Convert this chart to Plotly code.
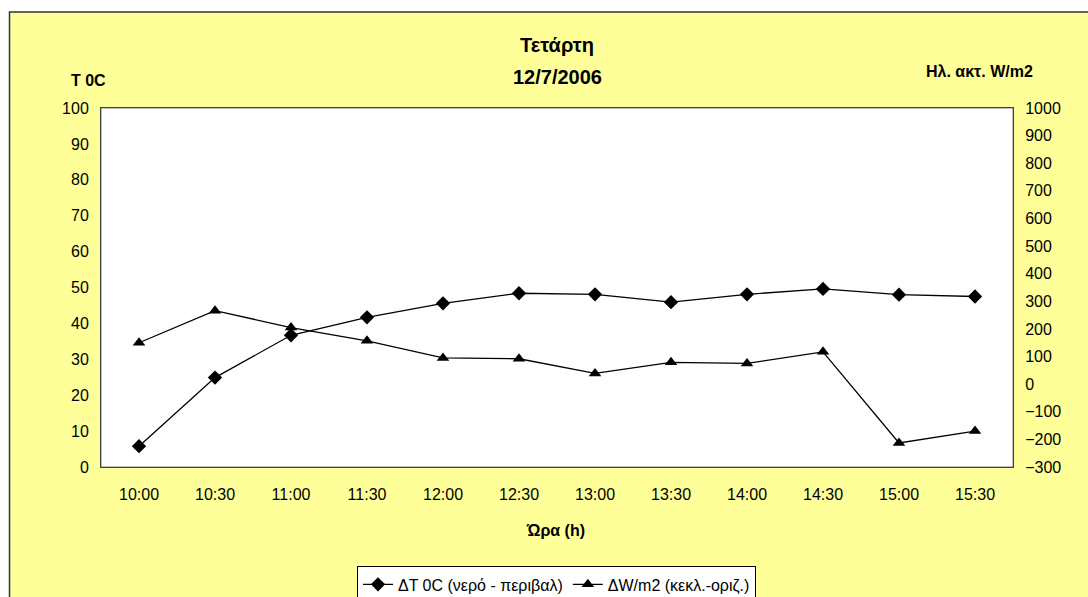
import plotly.graph_objects as go

# Measurements, Wednesday 12/7/2006
times = ["10:00", "10:30", "11:00", "11:30", "12:00", "12:30",
         "13:00", "13:30", "14:00", "14:30", "15:00", "15:30"]
delta_t = [5.8, 24.9, 36.7, 41.7, 45.6, 48.4, 48.1, 45.9, 48.1, 49.6, 48.0, 47.5]
delta_w = [150, 266, 205, 157, 95, 92, 39, 79, 75, 117, -213, -170]

name_t = "ΔT 0C (νερό - περιβαλ)"
name_w = "ΔW/m2 (κεκλ.-οριζ.)"

W, H = 1088, 597
L, R, T, B = 101, 1013, 108.3, 466.7
FONT = "Liberation Sans, Arial, sans-serif"


def px(x):
    return (x - L) / (R - L)


def py(y):
    return (B - y) / (B - T)


def label(text, x, y, size):
    return dict(text=text, x=px(x), y=py(y), xref="paper", yref="paper",
                xanchor="center", yanchor="middle", showarrow=False,
                font=dict(family=FONT, size=size, color="black"))


fig = go.Figure()
fig.add_trace(go.Scatter(
    x=times, y=delta_t, name=name_t, mode="lines+markers",
    line=dict(color="black", width=1.3),
    marker=dict(symbol="diamond", size=11, color="black"),
    yaxis="y",
))
fig.add_trace(go.Scatter(
    x=times, y=delta_w, name=name_w, mode="lines+markers",
    line=dict(color="black", width=1.3),
    marker=dict(symbol="triangle-up", size=11, color="black"),
    yaxis="y2",
))

axis_line = dict(showline=True, linecolor="#404040", linewidth=1,
                 showgrid=False, zeroline=False, ticks="")
tick_font = dict(family=FONT, size=16, color="black")

fig.update_layout(
    width=W, height=H,
    margin=dict(l=L, r=W - R, t=T, b=H - B, autoexpand=False),
    paper_bgcolor="white",
    plot_bgcolor="white",
    showlegend=True,
    xaxis=dict(type="category", range=[-0.5, 11.5], tickfont=tick_font,
               ticklabelstandoff=13, mirror=True, **axis_line),
    yaxis=dict(range=[0, 100], dtick=10, tickfont=tick_font,
               ticklabelstandoff=8, **axis_line),
    yaxis2=dict(range=[-300, 1000], dtick=100, tickfont=tick_font,
                overlaying="y", side="right", ticklabelstandoff=8,
                **axis_line),
    legend=dict(orientation="h", x=px(357), y=py(566), xanchor="left",
                yanchor="top", bgcolor="white", bordercolor="black",
                borderwidth=1, font=dict(family=FONT, size=16, color="black"),
                itemwidth=30, tracegroupgap=0),
    shapes=[
        # yellow chart background with dark frame
        dict(type="rect", xref="paper", yref="paper", layer="below",
             x0=px(9.5), x1=px(W + 20), y0=py(H + 20), y1=py(12.5),
             fillcolor="#FFFF99", line=dict(color="#333333", width=1.5)),
        # white plotting area
        dict(type="rect", xref="paper", yref="paper", layer="below",
             x0=0, x1=1, y0=0, y1=1, fillcolor="white",
             line=dict(color="#808080", width=1)),
    ],
    annotations=[
        label("<b>Τετάρτη</b>", 557, 45, 20),
        label("<b>12/7/2006</b>", 557, 77, 20),
        label("<b>T 0C</b>", 88, 81, 16),
        label("<b>Ηλ. ακτ. W/m2</b>", 979, 72, 16),
        label("<b>Ώρα (h)</b>", 555, 530, 16),
    ],
)

fig.write_html("out.html")
